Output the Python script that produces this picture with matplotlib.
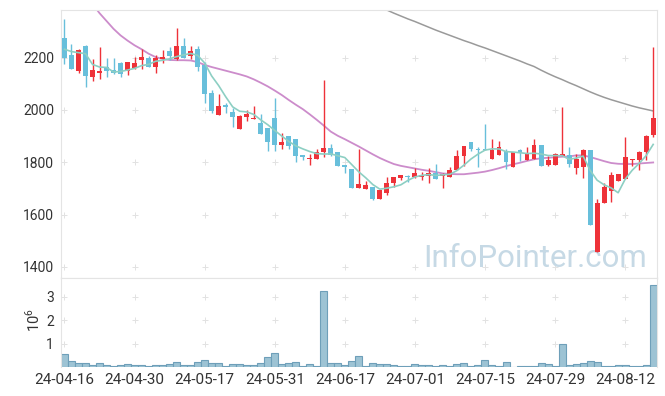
import numpy as np
import pandas as pd
import matplotlib.pyplot as plt

plt.rcParams['font.family'] = ['Roboto', 'DejaVu Sans']
plt.rcParams['mathtext.fontset'] = 'custom'
plt.rcParams['mathtext.rm'] = 'Roboto'

# trading days (KRX), 24-04-16 .. 24-08-19
dates = ['24-04-16', '24-04-17', '24-04-18', '24-04-19', '24-04-22', '24-04-23', '24-04-24', '24-04-25',
         '24-04-26', '24-04-29', '24-04-30', '24-05-02', '24-05-03', '24-05-07', '24-05-08', '24-05-09',
         '24-05-10', '24-05-13', '24-05-14', '24-05-16', '24-05-17', '24-05-20', '24-05-21', '24-05-22',
         '24-05-23', '24-05-24', '24-05-27', '24-05-28', '24-05-29', '24-05-30', '24-05-31', '24-06-03',
         '24-06-04', '24-06-05', '24-06-07', '24-06-10', '24-06-11', '24-06-12', '24-06-13', '24-06-14',
         '24-06-17', '24-06-18', '24-06-19', '24-06-20', '24-06-21', '24-06-24', '24-06-25', '24-06-26',
         '24-06-27', '24-06-28', '24-07-01', '24-07-02', '24-07-03', '24-07-04', '24-07-05', '24-07-08',
         '24-07-09', '24-07-10', '24-07-11', '24-07-12', '24-07-15', '24-07-16', '24-07-17', '24-07-18',
         '24-07-19', '24-07-22', '24-07-23', '24-07-24', '24-07-25', '24-07-26', '24-07-29', '24-07-30',
         '24-07-31', '24-08-01', '24-08-02', '24-08-05', '24-08-06', '24-08-07', '24-08-08', '24-08-09',
         '24-08-12', '24-08-13', '24-08-14', '24-08-16', '24-08-19']

opens = [2275, 2209, 2147, 2245, 2124, 2143, 2163, 2153, 2180, 2149, 2162, 2191, 2198, 2166, 2194, 2226,
         2195, 2245, 2208, 2232, 2172, 2066, 1981, 2019, 1992, 1928, 1974, 1965, 1950, 1931, 1969, 1866,
         1900, 1889, 1828, 1814, 1812, 1839, 1854, 1839, 1790, 1774, 1703, 1699, 1706, 1661, 1681, 1722,
         1741, 1746, 1742, 1745, 1749, 1758, 1749, 1742, 1769, 1822, 1878, 1851, 1852, 1814, 1829, 1843,
         1783, 1845, 1809, 1814, 1866, 1791, 1791, 1825, 1828, 1779, 1783, 1847, 1458, 1643, 1691, 1730,
         1735, 1807, 1807, 1838, 1904]
highs = [2347, 2251, 2232, 2247, 2196, 2240, 2200, 2198, 2182, 2184, 2201, 2232, 2207, 2209, 2229, 2241,
         2312, 2274, 2245, 2245, 2185, 2076, 2061, 2025, 2006, 1980, 2000, 2015, 1985, 1931, 2045, 1911,
         1900, 1889, 1828, 1832, 1850, 2115, 1870, 1839, 1790, 1774, 1850, 1728, 1706, 1694, 1742, 1744,
         1751, 1751, 1776, 1763, 1777, 1792, 1758, 1783, 1847, 1862, 1878, 1858, 1946, 1888, 1881, 1849,
         1838, 1849, 1857, 1890, 1866, 1824, 1837, 2010, 1860, 1830, 1850, 1847, 1660, 1720, 1764, 1755,
         1895, 1814, 1844, 1904, 2240]
lows = [2175, 2156, 2143, 2089, 2110, 2117, 2125, 2138, 2125, 2133, 2158, 2158, 2163, 2143, 2181, 2191,
        2191, 2197, 2196, 2147, 2028, 1990, 1980, 1990, 1934, 1926, 1959, 1964, 1908, 1841, 1843, 1850,
        1850, 1800, 1809, 1789, 1812, 1819, 1822, 1786, 1758, 1703, 1700, 1699, 1655, 1658, 1676, 1707,
        1732, 1726, 1739, 1732, 1722, 1735, 1700, 1742, 1769, 1786, 1842, 1783, 1847, 1814, 1829, 1774,
        1783, 1805, 1809, 1814, 1787, 1787, 1791, 1825, 1783, 1754, 1739, 1560, 1458, 1643, 1649, 1730,
        1735, 1785, 1770, 1810, 1898]
closes = [2199, 2158, 2229, 2131, 2153, 2149, 2150, 2143, 2139, 2182, 2180, 2203, 2166, 2199, 2201, 2208,
          2245, 2199, 2226, 2166, 2061, 1997, 2015, 2013, 1972, 1977, 1985, 1967, 1909, 1879, 1867, 1879,
          1863, 1825, 1821, 1816, 1839, 1855, 1828, 1786, 1781, 1703, 1717, 1713, 1658, 1694, 1721, 1744,
          1751, 1742, 1760, 1752, 1758, 1735, 1754, 1770, 1823, 1862, 1852, 1847, 1847, 1847, 1860, 1802,
          1838, 1834, 1832, 1866, 1787, 1809, 1832, 1832, 1795, 1811, 1847, 1560, 1643, 1707, 1751, 1755,
          1818, 1814, 1838, 1902, 1968]
# closes of the four sessions before the window (for the 5-day average)
prev_closes = [2203, 2249, 2151, 2358]

# volume, millions of shares
volume_mil = [0.57, 0.27, 0.18, 0.18, 0.10, 0.18, 0.10, 0.06, 0.10, 0.14, 0.10, 0.10, 0.06, 0.10, 0.10, 0.14,
              0.23, 0.10, 0.10, 0.23, 0.31, 0.18, 0.18, 0.05, 0.14, 0.14, 0.10, 0.10, 0.18, 0.44, 0.61, 0.14,
              0.18, 0.23, 0.05, 0.14, 0.05, 3.27, 0.18, 0.18, 0.10, 0.27, 0.48, 0.05, 0.18, 0.14, 0.14, 0.10,
              0.05, 0.05, 0.14, 0.10, 0.10, 0.05, 0.10, 0.05, 0.14, 0.18, 0.05, 0.10, 0.31, 0.10, 0.05, 0.23,
              0.00, 0.04, 0.04, 0.04, 0.18, 0.14, 0.05, 1.00, 0.10, 0.14, 0.18, 0.27, 0.23, 0.05, 0.05, 0.10,
              0.10, 0.05, 0.05, 0.10, 3.49]

# 20-day and long moving averages (None = above the visible range)
ma20 = [None, None, None, None, 2405, 2370, 2340, 2310, 2285, 2265, 2247, 2232, 2215, 2202, 2195, 2191,
        2190, 2190, 2189, 2183, 2172, 2164, 2157, 2150, 2143, 2136, 2128, 2117, 2104, 2090, 2074, 2057,
        2038, 2020, 2003, 1983, 1962, 1940, 1917, 1901, 1888, 1874, 1860, 1845, 1830, 1816, 1804, 1793,
        1786, 1781, 1776, 1771, 1767, 1762, 1757, 1755, 1754, 1754, 1757, 1760, 1764, 1770, 1777, 1785,
        1792, 1798, 1805, 1811, 1815, 1817, 1819, 1821, 1822, 1826, 1826, 1820, 1812, 1804, 1797, 1794,
        1793, 1793, 1795, 1797, 1799]
ma_long = [None] * 44 + [2404, 2393, 2382, 2370, 2359, 2348, 2338, 2327, 2316, 2305, 2295, 2285, 2275,
                         2265, 2256, 2246, 2237, 2227, 2217, 2207, 2197, 2187, 2176, 2166, 2152, 2139,
                         2127, 2116, 2104, 2093, 2081, 2069, 2058, 2048, 2039, 2031, 2023, 2015, 2008,
                         2002, 1996]

UP = '#ee3239'
DOWN = '#68bfdb'

o = np.array(opens, float)
c = np.array(closes, float)
x = np.arange(len(dates))
ma5 = pd.Series(prev_closes + closes).rolling(5).mean().to_numpy()[len(prev_closes):]
ma20 = np.array([np.nan if v is None else v for v in ma20], float)
ma_long = np.array([np.nan if v is None else v for v in ma_long], float)
colors = np.where(c >= o, UP, DOWN)

fig = plt.figure(figsize=(6.65, 3.96), dpi=100)
ax = fig.add_axes([0.0917, 0.2972, 0.8958, 0.6775])
axv = fig.add_axes([0.0917, 0.0725, 0.8958, 0.2247], sharex=ax)

yticks = [1400, 1600, 1800, 2000, 2200]
xticks = x[::10]
for xt in xticks:
    ax.plot([xt] * len(yticks), yticks, '+', color='#e2e2e2', ms=5, mew=0.7, zorder=0)
    axv.plot([xt] * 3, [1, 2, 3], '+', color='#e2e2e2', ms=5, mew=0.7, zorder=0)

ax.text(0.984, 0.042, 'InfoPointer.com', transform=ax.transAxes, ha='right', va='baseline',
        fontsize=22.5, color='#c6d9e5', zorder=0)

ax.plot(x, ma_long, color='#9a9a9a', lw=1.1, zorder=1)
ax.plot(x, ma20, color='#cc8ccb', lw=1.3, zorder=1)

ax.vlines(x, lows, highs, colors=colors, lw=1.0, zorder=2)
ax.bar(x, np.maximum(np.abs(c - o), 3), bottom=np.minimum(o, c), width=0.7, color=colors,
       lw=0, zorder=3)
ax.plot(x, ma5, color='#8dcfc3', lw=1.2, zorder=4)

ax.set_xlim(-0.5, len(dates) - 0.5)
ax.set_ylim(1356, 2382)
ax.set_yticks(yticks)
ax.tick_params(axis='both', length=0, labelsize=10, labelcolor='#333333', pad=5)
ax.tick_params(axis='x', labelbottom=False)

axv.bar(x, volume_mil, width=1.0, color='#9dc3d4', edgecolor='#6e9fb9', lw=0.8)
axv.set_ylim(0, 3.79)
axv.set_yticks([1, 2, 3])
axv.set_xticks(xticks)
axv.set_xticklabels([dates[i] for i in xticks])
axv.tick_params(axis='y', length=0, labelsize=10, labelcolor='#333333', pad=5)
axv.tick_params(axis='x', length=0, labelsize=11, labelcolor='#333333', pad=4)
axv.spines['bottom'].set_visible(False)
fig.text(33 / 665, 1 - 320 / 396, r'$10^6$', rotation=90, ha='center', va='center',
         fontsize=10.5, color='#333333')

for a in (ax, axv):
    for s in a.spines.values():
        s.set_color('#e4e4e4')

fig.savefig('out.png', dpi=100)
